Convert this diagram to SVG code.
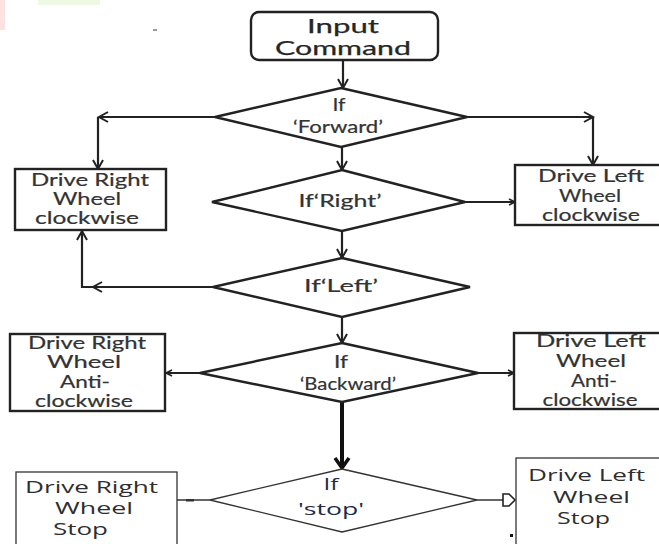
<svg xmlns="http://www.w3.org/2000/svg" width="659" height="544" viewBox="0 0 659 544">
<style>
.bg{fill:#ffffff}
.shape{fill:#ffffff;stroke:#222;stroke-width:2.4}
.thin{fill:#ffffff;stroke:#333;stroke-width:1.3}
.conn{fill:none;stroke:#222;stroke-width:2.2}
.connthin{fill:none;stroke:#333;stroke-width:1.3}
.t{font-family:Lato,"Open Sans","DejaVu Sans",sans-serif;font-size:17px;fill:#333;stroke:#333;stroke-width:0.2;text-anchor:middle}
.tb{font-family:Lato,"Open Sans","DejaVu Sans",sans-serif;font-size:20px;fill:#262626;stroke:#262626;stroke-width:0.25;text-anchor:middle}
.ts{font-family:"Open Sans","Noto Sans","Liberation Sans",sans-serif;font-size:17px;fill:#2e2e2e}
.tq{font-family:"Open Sans","Noto Sans","Liberation Sans",sans-serif;font-size:16px;fill:#1d2b47;text-anchor:middle}
</style>
<defs>
<marker id="ah" markerUnits="userSpaceOnUse" markerWidth="16" markerHeight="16" refX="12" refY="8" orient="auto">
<path d="M3,3 L12,8 L3,13" fill="none" stroke="#222" stroke-width="2"/>
</marker>
<marker id="ahs" markerUnits="userSpaceOnUse" markerWidth="16" markerHeight="16" refX="12" refY="8" orient="auto">
<path d="M6,5 L12,8 L6,11" fill="none" stroke="#222" stroke-width="1.6"/>
</marker>
<marker id="ahb" markerUnits="userSpaceOnUse" markerWidth="20" markerHeight="20" refX="14" refY="10" orient="auto">
<path d="M4,3 L14,10 L4,17" fill="none" stroke="#111" stroke-width="3.5"/>
</marker>
</defs>
<rect class="bg" x="0" y="0" width="659" height="544"/>
<rect x="0" y="0" width="5" height="30" fill="#fde2e2"/>
<rect x="38" y="0" width="62" height="5" fill="#eef8e2"/>
<rect x="153" y="29" width="4" height="2" fill="#999"/>

<g id="connectors">
<path class="conn" d="M343,60 L343,88" marker-end="url(#ah)"/>
<path class="conn" d="M215,117 L99,117" marker-end="url(#ah)"/>
<path class="conn" d="M98,117 L98,169" marker-end="url(#ah)"/>
<path class="conn" d="M467,117 L593,117" marker-end="url(#ah)"/>
<path class="conn" d="M593,117 L593,165" marker-end="url(#ah)"/>
<path class="conn" d="M342,147 L342,170" marker-end="url(#ah)"/>
<path class="conn" d="M465,202 L515,202" marker-end="url(#ahs)"/>
<path class="conn" d="M342,231 L342,258" marker-end="url(#ah)"/>
<path class="conn" d="M213,287 L93,287" marker-end="url(#ah)"/>
<path class="conn" d="M93,287 L82,287 L82,231" marker-end="url(#ah)"/>
<path class="conn" d="M342,317 L342,343" marker-end="url(#ah)"/>
<path class="conn" d="M200,373 L166,373" marker-end="url(#ahs)"/>
<path class="conn" d="M478,373 L514,373" marker-end="url(#ahs)"/>
<path d="M342,402 L342,468" fill="none" stroke="#111" stroke-width="4" marker-end="url(#ahb)"/>
<path class="connthin" d="M210,500 L177,500"/>
<rect x="186" y="499" width="8" height="2.5" fill="#333"/>
<path class="connthin" d="M477,500 L515,500" stroke-width="2"/>
<path d="M503,494 L509,494 L515,500 L509,506 L503,506 Z" fill="#fff" stroke="#222" stroke-width="1.6"/>
<rect x="510" y="534" width="3" height="3" fill="#111"/>
</g>

<g id="input">
<rect class="shape" x="251" y="12" width="187" height="48" rx="8"/>
<text class="tb" x="343" y="33" textLength="72" lengthAdjust="spacingAndGlyphs">Input</text>
<text class="tb" x="343" y="55" textLength="136" lengthAdjust="spacingAndGlyphs">Command</text>
</g>

<g id="if-forward">
<polygon class="shape" points="341,88 467,117 341,147 215,117"/>
<text class="t" x="339" y="111" textLength="13" lengthAdjust="spacingAndGlyphs">If</text>
<text class="t" x="338" y="133" textLength="90" lengthAdjust="spacingAndGlyphs">‘Forward’</text>
</g>

<g id="drive-right-cw">
<rect class="shape" x="15" y="169" width="151" height="61"/>
<text class="t" x="90" y="186" textLength="118" lengthAdjust="spacingAndGlyphs">Drive Right</text>
<text class="t" x="87" y="205" textLength="68" lengthAdjust="spacingAndGlyphs">Wheel</text>
<text class="t" x="87" y="224" textLength="104" lengthAdjust="spacingAndGlyphs">clockwise</text>
</g>

<g id="if-right">
<polygon class="shape" points="342,170 465,202 342,231 212,202"/>
<text class="t" x="340" y="207" textLength="83" lengthAdjust="spacingAndGlyphs">If‘Right’</text>
</g>

<g id="drive-left-cw">
<rect class="shape" x="515" y="165" width="150" height="60"/>
<text class="t" x="591" y="182" textLength="106" lengthAdjust="spacingAndGlyphs">Drive Left</text>
<text class="t" x="590" y="202" textLength="62" lengthAdjust="spacingAndGlyphs">Wheel</text>
<text class="t" x="591" y="221" textLength="98" lengthAdjust="spacingAndGlyphs">clockwise</text>
</g>

<g id="if-left">
<polygon class="shape" points="342,258 470,287 342,317 213,287"/>
<text class="t" x="341" y="292" textLength="74" lengthAdjust="spacingAndGlyphs">If‘Left’</text>
</g>

<g id="if-backward">
<polygon class="shape" points="342,343 478,373 342,402 200,373"/>
<text class="t" x="341" y="368" textLength="14" lengthAdjust="spacingAndGlyphs">If</text>
<text class="t" x="348" y="390" textLength="96" lengthAdjust="spacingAndGlyphs">‘Backward’</text>
</g>

<g id="drive-right-acw">
<rect class="shape" x="10" y="334" width="155" height="77"/>
<text class="t" x="87" y="349" textLength="118" lengthAdjust="spacingAndGlyphs">Drive Right</text>
<text class="t" x="84" y="368" textLength="74" lengthAdjust="spacingAndGlyphs">Wheel</text>
<text class="t" x="85" y="388" textLength="50" lengthAdjust="spacingAndGlyphs">Anti-</text>
<text class="t" x="84" y="407" textLength="98" lengthAdjust="spacingAndGlyphs">clockwise</text>
</g>

<g id="drive-left-acw">
<rect class="shape" x="514" y="333" width="150" height="76"/>
<text class="t" x="591" y="347" textLength="110" lengthAdjust="spacingAndGlyphs">Drive Left</text>
<text class="t" x="591" y="367" textLength="70" lengthAdjust="spacingAndGlyphs">Wheel</text>
<text class="t" x="594" y="387" textLength="46" lengthAdjust="spacingAndGlyphs">Anti-</text>
<text class="t" x="590" y="406" textLength="95" lengthAdjust="spacingAndGlyphs">clockwise</text>
</g>

<g id="if-stop">
<polygon class="thin" points="342,469 477,500 342,532 210,500"/>
<text class="tq" x="331" y="490" textLength="15" lengthAdjust="spacingAndGlyphs">If</text>
<text class="tq" x="331" y="515" textLength="66" lengthAdjust="spacingAndGlyphs">'stop'</text>
</g>

<g id="drive-right-stop">
<rect class="thin" x="16" y="472" width="161" height="80" stroke-width="1.6"/>
<text class="ts" x="25" y="493" textLength="133" lengthAdjust="spacingAndGlyphs">Drive Right</text>
<text class="ts" x="55" y="514" textLength="78" lengthAdjust="spacingAndGlyphs">Wheel</text>
<text class="ts" x="53" y="535" textLength="55" lengthAdjust="spacingAndGlyphs">Stop</text>
</g>

<g id="drive-left-stop">
<rect class="thin" x="516" y="458" width="150" height="100" stroke-width="1.6"/>
<text class="ts" x="528" y="481" textLength="117" lengthAdjust="spacingAndGlyphs">Drive Left</text>
<text class="ts" x="553" y="503" textLength="77" lengthAdjust="spacingAndGlyphs">Wheel</text>
<text class="ts" x="557" y="524" textLength="53" lengthAdjust="spacingAndGlyphs">Stop</text>
</g>
</svg>
